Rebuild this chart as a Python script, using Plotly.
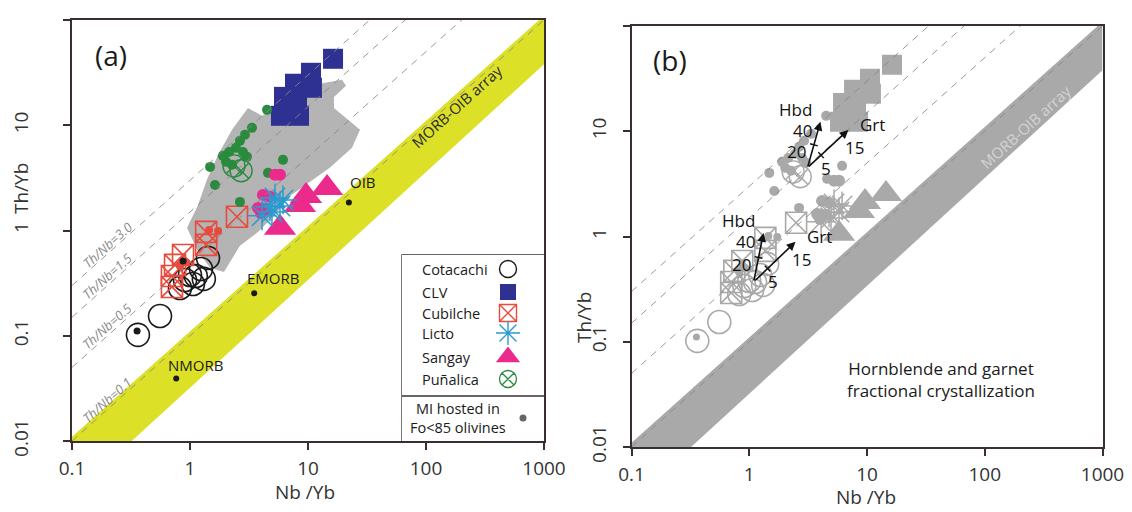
import numpy as np
import plotly.graph_objects as go

FONT = "Open Sans, Arial, sans-serif"
OFF = 8                      # default page margin of the html body
FW, FH = 1132 - OFF, 512 - OFF

# ---------------- data (Nb/Yb, Th/Yb) ----------------
COTACACHI_NB = [1.42, 1.24, 1.12, 1.00, 1.31, 0.908, 0.822, 1.06, 0.557, 0.362]
COTACACHI_TH = [0.549, 0.431, 0.370, 0.378, 0.347, 0.339, 0.284, 0.310, 0.154, 0.102]
CLV_NB = [16.3, 10.6, 7.76, 6.26, 5.90, 8.39, 8.07, 10.8]
CLV_TH = [42.8, 31.5, 24.8, 18.6, 12.3, 12.3, 17.4, 22.7]
CUBILCHE_NB = [2.50, 1.37, 1.37, 0.873, 0.747, 0.703, 0.703]
CUBILCHE_TH = [1.35, 0.97, 0.73, 0.586, 0.471, 0.370, 0.291]
LICTO_NB = [5.25, 5.79, 4.76, 4.08, 4.95, 6.14]
LICTO_TH = [2.04, 1.71, 1.68, 1.38, 1.50, 1.95]
SANGAY_NB = [14.5, 9.62, 8.55, 5.79]
SANGAY_TH = [2.54, 2.13, 1.75, 1.06]
PUNALICA_NB = [2.36, 2.71]
PUNALICA_TH = [4.11, 3.69]
# melt inclusions hosted in Fo<85 olivines
MI_PUNALICA_NB = [4.50, 3.35, 2.92, 2.65, 2.45, 2.14, 1.90, 3.04, 2.27, 1.48, 1.63, 6.14, 4.58, 2.65, 2.81, 2.02]
MI_PUNALICA_TH = [14.0, 9.45, 8.11, 7.11, 6.10, 5.58, 5.12, 5.01, 4.21, 4.02, 2.71, 4.69, 3.53, 1.87, 5.58, 4.49]
MI_SANGAY_NB = [5.25, 5.79, 4.15, 4.76, 3.77, 4.41, 4.00]
MI_SANGAY_TH = [3.38, 3.38, 2.18, 2.09, 1.64, 1.60, 1.47]
MI_CUBILCHE_NB = [1.73, 1.45, 0.822, 0.925]
MI_CUBILCHE_TH = [0.99, 1.01, 0.46, 0.50]
MI_COTACACHI_NB = [0.873, 0.356]
MI_COTACACHI_TH = [0.514, 0.111]

# reference compositions
REF_NAMES = ["OIB", "EMORB", "NMORB"]
REF_NB = [22.2, 3.5, 0.764]
REF_TH = [1.85, 0.253, 0.0393]

# grey field (outline)
FIELD_NB = [3.10, 4.07, 5.79, 8.55, 12.6, 19.4, 21.0, 16.6, 16.6, 21.0, 27.6, 23.6, 15.3, 10.4,
            7.03, 5.25, 3.77, 2.65, 2.18, 1.94, 1.48, 1.17, 0.944, 1.17, 1.39, 1.73, 2.27]
FIELD_TH = [14.6, 12.3, 15.3, 21.7, 24.8, 27.0, 23.7, 18.6, 14.6, 11.7, 9.04, 6.10, 3.94, 2.90,
            2.13, 1.41, 0.97, 0.715, 0.504, 0.404, 0.442, 0.627, 1.06, 1.75, 3.03, 5.24, 9.04]

# MORB-OIB array outline
BAND_NB = [0.1, 1000, 1000, 0.1]
BAND_TH = [0.011, 110, 38, 0.00303]

# constant Th/Nb reference lines
TH_NB_RATIOS = [3.0, 1.5, 0.5, 0.1]
TH_NB_LABELS = ["Th/Nb=3.0", "Th/Nb=1.5", "Th/Nb=0.5", "Th/Nb=0.1"]

# fractional crystallization vectors (panel b)
VEC_ORIGIN_NB = [3.12, 1.09]
VEC_ORIGIN_TH = [4.49, 0.370]
HBD_TIP_NB = [4.02, 1.32]
HBD_TIP_TH = [12.3, 1.08]
GRT_TIP_NB = [6.95, 2.47]
GRT_TIP_TH = [10.3, 0.89]

AXIS_X_TICKS = [0.1, 1, 10, 100, 1000]
AXIS_X_TEXT = ["0.1", "1", "10", "100", "1000"]
AXIS_Y_TICKS = [0.01, 0.1, 1, 10, 100]
AXIS_Y_TEXT = ["0.01", "0.1", "1", "10", "100"]

# ---------------- styles ----------------
AX = "#3a2f2f"
BLACK = "#1a1a1a"
BLUE = "#2e3192"
RED = "#e84a3c"
CYAN = "#2a9bd0"
PINK = "#ec2a8c"
GREEN = "#2a8a3e"
GRAY = "#a9a9a9"
YELLOW = "#dce128"
FIELD = "#b4b4b4"

fig = go.Figure()
PANELS = {"a": ("x", "y"), "b": ("x2", "y2")}


def DX(px):
    return (px - OFF) / FW


def DY(py):
    return 1 - (py - OFF) / FH


def P(px, py):
    return DX(px), DY(py)


def pts(xs, ys, panel, symbol, size, color, lw=0.0):
    xr, yr = PANELS[panel]
    fig.add_trace(go.Scatter(
        x=xs, y=ys, xaxis=xr, yaxis=yr, mode="markers",
        marker=dict(symbol=symbol, size=size, color=color, line=dict(width=lw, color=color)),
        hoverinfo="skip", showlegend=False))


def poly(xs, ys, panel, color):
    xr, yr = PANELS[panel]
    fig.add_trace(go.Scatter(
        x=xs + xs[:1], y=ys + ys[:1], xaxis=xr, yaxis=yr, mode="lines", fill="toself",
        fillcolor=color, line=dict(width=0, color=color), hoverinfo="skip", showlegend=False))


SERIES = [
    (COTACACHI_NB, COTACACHI_TH, "circle-open", 23, BLACK, 1.6),
    (CUBILCHE_NB, CUBILCHE_TH, "square-x-open", 21, RED, 1.6),
    (CLV_NB, CLV_TH, "square", 20, BLUE, 0),
    (MI_PUNALICA_NB, MI_PUNALICA_TH, "circle", 10, GREEN, 0),
    (PUNALICA_NB, PUNALICA_TH, "circle-x-open", 22, GREEN, 1.4),
    (SANGAY_NB, SANGAY_TH, "triangle-up", 28, PINK, 0),
    (MI_SANGAY_NB, MI_SANGAY_TH, "circle", 12, PINK, 0),
    (LICTO_NB, LICTO_TH, "asterisk-open", 24, CYAN, 1.5),
    (MI_CUBILCHE_NB, MI_CUBILCHE_TH, "circle", 8, RED, 0),
    (MI_COTACACHI_NB, MI_COTACACHI_TH, "circle", 7, BLACK, 0),
]

for panel in "ab":
    xr, yr = PANELS[panel]
    poly(BAND_NB, BAND_TH, panel, YELLOW if panel == "a" else GRAY)
    if panel == "a":
        poly(FIELD_NB, FIELD_TH, panel, FIELD)
    for xs, ys, sym, size, col, lw in SERIES:
        pts(xs, ys, panel, sym, size, col if panel == "a" else GRAY, lw)
    if panel == "a":
        pts(REF_NB, REF_TH, panel, "circle", 6, BLACK)
    for r in TH_NB_RATIOS:
        fig.add_trace(go.Scatter(
            x=[0.1, 1000], y=[0.1 * r, 1000 * r], xaxis=xr, yaxis=yr, mode="lines",
            line=dict(color="rgba(135,135,135,0.85)", width=1, dash="7px,6px"),
            hoverinfo="skip", showlegend=False))

# ---------------- crystallization vectors (panel b) ----------------
SX, SY = 117.8, 105.2  # px per decade
ann = []
for i in range(len(VEC_ORIGIN_NB)):
    o = np.log10([VEC_ORIGIN_NB[i], VEC_ORIGIN_TH[i]])
    for tip, t_mid, mid_lbl, tip_lbl, name, off_name, off_tip, off_mid in [
        (np.log10([HBD_TIP_NB[i], HBD_TIP_TH[i]]), 0.5, "20", "40", "Hbd", (-25, 12), (-18, -9), (-17, -7)),
        (np.log10([GRT_TIP_NB[i], GRT_TIP_TH[i]]), 1 / 3, "5", "15", "Grt", (24, 5), (6, -18), (5, -13)),
    ]:
        ann.append(dict(x=tip[0], y=tip[1], ax=o[0], ay=o[1], xref="x2", yref="y2", axref="x2",
                        ayref="y2", text="", showarrow=True, arrowhead=2, arrowsize=1.1,
                        arrowwidth=1.6, arrowcolor="#111"))
        m = o + t_mid * (tip - o)
        d = np.array([(tip[0] - o[0]) * SX, (tip[1] - o[1]) * SY])
        n = np.array([-d[1], d[0]]) / np.hypot(*d) * 4.0
        fig.add_trace(go.Scatter(
            x=10 ** np.array([m[0] - n[0] / SX, m[0] + n[0] / SX]),
            y=10 ** np.array([m[1] - n[1] / SY, m[1] + n[1] / SY]),
            xaxis="x2", yaxis="y2", mode="lines", line=dict(color="#111", width=1.4),
            hoverinfo="skip", showlegend=False))
        for txt, pos, off in [(name, tip, off_name), (tip_lbl, tip, off_tip), (mid_lbl, m, off_mid)]:
            ann.append(dict(x=pos[0], y=pos[1], xref="x2", yref="y2", text=txt, showarrow=False,
                            xshift=off[0], yshift=off[1], font=dict(family=FONT, size=17, color="#111")))

# ---------------- annotations panel a ----------------
REF_OFFSETS = [(14, 20), (19, 15), (19, 13)]
for nm, x, y, off in zip(REF_NAMES, REF_NB, REF_TH, REF_OFFSETS):
    ann.append(dict(x=np.log10(x), y=np.log10(y), xref="x", yref="y", text=nm, showarrow=False,
                    xshift=off[0], yshift=off[1], font=dict(family=FONT, size=15, color="#1a1a1a")))

for r, lbl in zip(TH_NB_RATIOS, TH_NB_LABELS):
    x = 0.215
    ann.append(dict(x=np.log10(x), y=np.log10(x * r), xref="x", yref="y", text=lbl, showarrow=False,
                    textangle=-41.7, xshift=-4, yshift=6,
                    font=dict(family=FONT, size=13, color="#8a8a8a", style="italic")))

ann.append(dict(x=np.log10(183), y=np.log10(15.3), xref="x", yref="y", text="MORB-OIB array",
                showarrow=False, textangle=-42, font=dict(family=FONT, size=15, color="#2a2a2a")))
ann.append(dict(x=np.log10(221), y=np.log10(11.0), xref="x2", yref="y2", text="MORB-OIB array",
                showarrow=False, textangle=-42, font=dict(family=FONT, size=15, color="#d4d4d4")))


# panel letters, titles and free text (paper coords)
def ptext(px, py, txt, size, color="#1a1a1a", angle=0, xanchor="center", align="center"):
    x, y = P(px, py)
    ann.append(dict(x=x, y=y, xref="paper", yref="paper", text=txt, showarrow=False,
                    textangle=angle, xanchor=xanchor, yanchor="middle", align=align,
                    font=dict(family=FONT, size=size, color=color)))


ptext(111, 55, "(a)", 28)
ptext(670, 60, "(b)", 28)
ptext(305, 492, "Nb /Yb", 19, "#333")
ptext(866, 497, "Nb /Yb", 19, "#333")
ptext(21, 188, "Th/Yb", 19, "#333", angle=-90)
ptext(584, 318, "Th/Yb", 19, "#333", angle=-90)
ptext(941, 379, "Hornblende and garnet<br>fractional crystallization", 17)

# ---------------- legend (panel a) ----------------
LEG_LABELS = ["Cotacachi", "CLV", "Cubilche", "Licto", "Sangay", "Puñalica"]
LEG_STYLE = [("circle-open", 17, BLACK, 1.4), ("square", 16, BLUE, 0), ("square-x-open", 17, RED, 1.4),
             ("asterisk-open", 20, CYAN, 1.4), ("triangle-up", 21, PINK, 0), ("circle-x-open", 17, GREEN, 1.3)]
BOX = (402, 255, 544, 441)
rows = [269, 292, 313, 333, 357, 379]
for lbl, py in zip(LEG_LABELS, rows):
    ptext(420, py, lbl, 14.5, xanchor="left")
ptext(458, 418, "MI hosted in<br>Fo&lt;85 olivines", 14.5)

bx0, by0 = P(BOX[0], BOX[3])
bx1, by1 = P(BOX[2], BOX[1])
shapes = [
    dict(type="rect", xref="paper", yref="paper", x0=bx0, y0=by0, x1=bx1, y1=by1,
         line=dict(color=AX, width=1.3), fillcolor="white", layer="below"),
    dict(type="line", xref="paper", yref="paper", x0=bx0, x1=bx1, y0=DY(396), y1=DY(396),
         line=dict(color=AX, width=1.3)),
]
bh = BOX[3] - BOX[1]
bw = BOX[2] - BOX[0]
for (sym, size, col, lw), py in zip(LEG_STYLE, rows):
    fig.add_trace(go.Scatter(x=[(508 - BOX[0]) / bw], y=[(BOX[3] - py) / bh], xaxis="x3", yaxis="y3",
                             mode="markers", marker=dict(symbol=sym, size=size, color=col,
                                                         line=dict(width=lw, color=col)),
                             hoverinfo="skip", showlegend=False))
fig.add_trace(go.Scatter(x=[(523 - BOX[0]) / bw], y=[(BOX[3] - 418) / bh], xaxis="x3", yaxis="y3",
                         mode="markers", marker=dict(symbol="circle", size=7, color="#666"),
                         hoverinfo="skip", showlegend=False))


# ---------------- axes ----------------
def xax(domain, anchor):
    return dict(type="log", domain=domain, anchor=anchor, range=[-1, 3], tickvals=AXIS_X_TICKS,
                ticktext=AXIS_X_TEXT, showgrid=False, zeroline=False, showline=True, linecolor=AX,
                linewidth=1.5, mirror=True, ticks="outside", ticklen=7, tickwidth=1.5, tickcolor=AX,
                ticklabelstandoff=2, automargin=False,
                tickfont=dict(family=FONT, size=19, color="#333"))


def yax(domain, anchor, standoff):
    return dict(type="log", domain=domain, anchor=anchor, range=[-2, 2], tickvals=AXIS_Y_TICKS,
                ticktext=AXIS_Y_TEXT, showgrid=False, zeroline=False, showline=True, linecolor=AX,
                linewidth=1.5, mirror=True, ticks="outside", ticklen=7, tickwidth=1.5, tickcolor=AX,
                tickangle=-90, ticklabelstandoff=standoff, automargin=False,
                tickfont=dict(family=FONT, size=19, color="#333"))


fig.update_layout(
    width=FW, height=FH, autosize=False, margin=dict(l=0, r=0, t=0, b=0, autoexpand=False),
    paper_bgcolor="white", plot_bgcolor="white", showlegend=False,
    xaxis=xax([DX(72), DX(544)], "y"),
    yaxis=yax([DY(441), DY(20)], "x", 28),
    xaxis2=xax([DX(631.5), DX(1102.5)], "y2"),
    yaxis2=yax([DY(447), DY(26)], "x2", 9),
    xaxis3=dict(domain=[DX(BOX[0]), DX(BOX[2])], anchor="y3", range=[0, 1], visible=False,
                automargin=False),
    yaxis3=dict(domain=[DY(BOX[3]), DY(BOX[1])], anchor="x3", range=[0, 1], visible=False,
                automargin=False),
    annotations=ann, shapes=shapes,
)

fig.write_html("out.html")
